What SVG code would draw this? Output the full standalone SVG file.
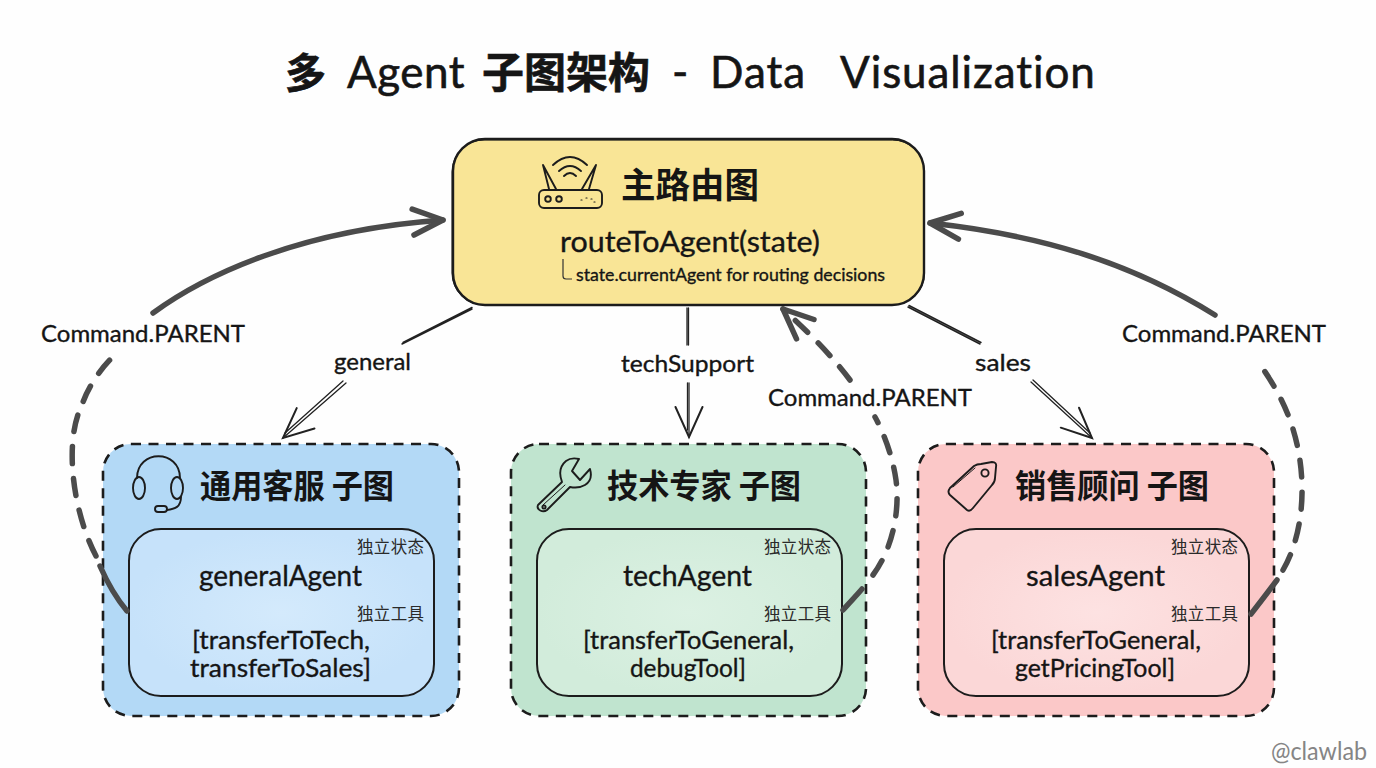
<svg xmlns="http://www.w3.org/2000/svg" width="1376" height="768" viewBox="0 0 1376 768">
<style>
text{font-family:"Lato","Noto Sans CJK SC",sans-serif;fill:#151515;stroke:#151515;stroke-width:.35}
.h{font-family:"Noto Sans CJK SC",sans-serif;font-weight:700;font-size:33px;stroke:none}
.s{font-family:"Noto Sans CJK SC",sans-serif;font-size:16.5px;fill:#2a2a2a;stroke:none}
.a{font-size:28px}
.t{font-size:25px}
.l{font-size:23px}
.outer{stroke:#1c1c1c;stroke-width:2.6;stroke-dasharray:10 7.5}
.inner{stroke:#1c1c1c;stroke-width:2}
.ic{fill:none;stroke:#1c1c1c;stroke-width:1.9;stroke-linecap:round;stroke-linejoin:round}
.thin{fill:none;stroke:#222;stroke-width:1.3;stroke-linecap:round}
.thick{fill:none;stroke:#4b4b4b;stroke-width:5.5;stroke-linecap:round}
.dash{stroke-dasharray:17 15;stroke-linecap:round}
</style>
<defs>
<marker id="open" markerUnits="userSpaceOnUse" markerWidth="60" markerHeight="60" refX="40" refY="30" orient="auto"><path d="M10,16.5 L40,30 L10,43.5" fill="none" stroke="#222" stroke-width="2" stroke-linecap="round"/></marker>
<marker id="bold" markerUnits="userSpaceOnUse" markerWidth="60" markerHeight="60" refX="46" refY="30" orient="auto"><path d="M16,17 L46,30 L16,43" fill="none" stroke="#4b4b4b" stroke-width="5.5" stroke-linecap="round" stroke-linejoin="round"/></marker>
<radialGradient id="gb"><stop offset="0" stop-color="#d4eafc"/><stop offset="1" stop-color="#c6e2fa"/></radialGradient>
<radialGradient id="gg"><stop offset="0" stop-color="#dcf1e3"/><stop offset="1" stop-color="#d2ecdb"/></radialGradient>
<radialGradient id="gr"><stop offset="0" stop-color="#fde2e2"/><stop offset="1" stop-color="#fbd7d7"/></radialGradient>
</defs>
<rect width="1376" height="768" fill="#fefefe"/>
<text id="title" y="88" font-size="44" stroke-width=".6" style="stroke-width:.6"><tspan x="285" font-family="Noto Sans CJK SC" font-size="41" font-weight="700" style="font-family:'Noto Sans CJK SC'">多</tspan><tspan x="347" letter-spacing="0.5">Agent</tspan><tspan x="482" font-size="42" font-weight="700" style="font-family:'Noto Sans CJK SC'">子图架构</tspan><tspan x="672">-</tspan><tspan x="710" letter-spacing="1">Data</tspan><tspan x="840" letter-spacing="0.9">Visualization</tspan></text>

<g id="router-node">
<rect x="453" y="139" width="471" height="166" rx="32" fill="#f9e596" stroke="#1c1c1c" stroke-width="2.4"/>
<rect x="452" y="140" width="472.500" height="165" rx="32" fill="none" stroke="#1c1c1c" stroke-width="1"/>
<g class="ic">
<rect x="539" y="190" width="63" height="18" rx="5"/>
<path d="M543,165 L549,189 M543,165 L556,189 M596,165 L582,189 M596,165 L589,189"/>
<path d="M553,165 Q570,149 587,165 M559,171 Q570,161 581,171 M564,176 Q570,170 576,176"/>
<circle cx="548" cy="199" r="2.8"/><circle cx="559" cy="199" r="2.8"/>
<path d="M581,200h1M586,198h1M591,199h1M594,202h1" stroke-width="1.2"/>
</g>
<text class="h" x="621" y="198" style="font-size:35px" textLength="138" lengthAdjust="spacingAndGlyphs">主路由图</text>
<text x="560" y="252" font-size="28" textLength="260" lengthAdjust="spacingAndGlyphs">routeToAgent(state)</text>
<path d="M563,259 V276 Q563,279 566,279 H572" fill="none" stroke="#333" stroke-width="1.2"/>
<text x="576" y="281" font-size="17.5" textLength="309" lengthAdjust="spacingAndGlyphs">state.currentAgent for routing decisions</text>
</g>

<g id="general-node">
<rect class="outer" x="103" y="444" width="356" height="272" rx="28" fill="#b3d9f6"/>
<rect class="inner" x="129" y="529" width="305" height="167" rx="32" fill="url(#gb)"/>
<g class="ic">
<path d="M137,478 C137,449 180,449 180,478"/>
<ellipse cx="139" cy="488" rx="6" ry="11"/><ellipse cx="177" cy="488" rx="6" ry="11"/>
<path d="M181,497 C181,507 175,509 167,510"/><rect x="155" y="506" width="12" height="6" rx="3"/>
</g>
<text class="h" x="200" y="498" textLength="194" lengthAdjust="spacingAndGlyphs">通用客服 子图</text>
<text class="s" x="357" y="553" textLength="67">独立状态</text>
<text class="a" x="199" y="586" textLength="163" lengthAdjust="spacingAndGlyphs">generalAgent</text>
<text class="s" x="357" y="620" textLength="67">独立工具</text>
<text class="t" x="192" y="649" textLength="178" lengthAdjust="spacingAndGlyphs">[transferToTech,</text>
<text class="t" x="190" y="677" textLength="181" lengthAdjust="spacingAndGlyphs">transferToSales]</text>
</g>

<g id="tech-node">
<rect class="outer" x="511" y="444" width="355" height="272" rx="28" fill="#c0e4cf"/>
<rect class="inner" x="537" y="529" width="305" height="167" rx="32" fill="url(#gg)"/>
<g class="ic">
<path d="M538,505 L562,482 C559,474 560,466 566,461 C570,458 575,458 579,459 L572,471 L580,480 L590,469 C592,476 590,482 585,485 C580,488 575,488 570,487 L547,510 C543,513 536,510 538,505 Z"/>
<path d="M543,505 L565,485" stroke-width="1"/>
<circle cx="544" cy="507" r="1.6"/>
</g>
<text class="h" x="607" y="498" textLength="194" lengthAdjust="spacingAndGlyphs">技术专家 子图</text>
<text class="s" x="764" y="553" textLength="67">独立状态</text>
<text class="a" x="623" y="586" textLength="129" lengthAdjust="spacingAndGlyphs">techAgent</text>
<text class="s" x="764" y="620" textLength="67">独立工具</text>
<text class="t" x="583" y="649" textLength="211" lengthAdjust="spacingAndGlyphs">[transferToGeneral,</text>
<text class="t" x="630" y="677" textLength="116" lengthAdjust="spacingAndGlyphs">debugTool]</text>
</g>

<g id="sales-node">
<rect class="outer" x="918" y="444" width="356" height="272" rx="28" fill="#fbc8c8"/>
<rect class="inner" x="944" y="529" width="305" height="167" rx="32" fill="url(#gr)"/>
<g class="ic">
<path d="M950,488 L974,466 Q977,464 981,464 L992,462 Q997,462 996,467 L995,478 Q995,482 992,485 L973,508 Q970,512 967,510 L950,495 Q947,492 950,488 Z"/>
<path d="M953,487 L975,468" stroke-width="1"/>
<circle cx="985" cy="473" r="3.6"/>
</g>
<text class="h" x="1015" y="498" textLength="194" lengthAdjust="spacingAndGlyphs">销售顾问 子图</text>
<text class="s" x="1171" y="553" textLength="67">独立状态</text>
<text class="a" x="1026" y="586" textLength="139" lengthAdjust="spacingAndGlyphs">salesAgent</text>
<text class="s" x="1171" y="620" textLength="67">独立工具</text>
<text class="t" x="991" y="649" textLength="210" lengthAdjust="spacingAndGlyphs">[transferToGeneral,</text>
<text class="t" x="1015" y="677" textLength="160" lengthAdjust="spacingAndGlyphs">getPricingTool]</text>
</g>

<g id="connectors">
<path class="thin" d="M472,309 L402,344 M472,307.500 L403,342.500" style="stroke-width:1.5"/>
<path class="thin" d="M346,383 L283,438" marker-end="url(#open)"/>
<path class="thin" d="M343,381 L285,433"/>
<path class="thin" d="M687,308 V345 M688.500,308 V345"/>
<path class="thin" d="M689,383 V437" marker-end="url(#open)"/>
<path class="thin" d="M687.500,383 V430"/>
<path class="thin" d="M908,307 L980,344 M909,305.500 L981,342.500" style="stroke-width:1.5"/>
<path class="thin" d="M1031,382 L1092,438" marker-end="url(#open)"/>
<path class="thin" d="M1033,380 L1090,433"/>

<path class="thick" d="M127,611 C116,598 107,582 100,566"/>
<path class="thick dash" d="M96,556 C72,510 64,440 82,405 C87,389 100,368 117,353"/>
<path class="thick" d="M153,313 C205,275 300,230 443,220" marker-end="url(#bold)"/>

<path class="thick" d="M843,610 C850,602 856,596 862,589"/>
<path class="thick dash" d="M873,575 C893,548 900,510 896,480 C893,458 884,433 875,417"/>
<path class="thick dash" d="M850,380 C835,360 815,338 783,309" marker-end="url(#bold)"/>

<path class="thick" d="M1251,614 C1262,600 1268,592 1277,580"/>
<path class="thick dash" d="M1283,570 C1306,530 1308,470 1290,420 C1282,398 1270,378 1258,362"/>
<path class="thick" d="M1215,315 C1130,262 1040,235 930,223" marker-end="url(#bold)"/>
</g>

<g id="labels">
<text class="l" x="41" y="342" textLength="204" lengthAdjust="spacingAndGlyphs">Command.PARENT</text>
<text class="l" x="334" y="370" textLength="77" lengthAdjust="spacingAndGlyphs">general</text>
<text class="l" x="621" y="372" textLength="133" lengthAdjust="spacingAndGlyphs">techSupport</text>
<text class="l" x="975" y="371" textLength="56" lengthAdjust="spacingAndGlyphs">sales</text>
<text class="l" x="768" y="406" textLength="204" lengthAdjust="spacingAndGlyphs">Command.PARENT</text>
<text class="l" x="1122" y="342" textLength="204" lengthAdjust="spacingAndGlyphs">Command.PARENT</text>
<text x="1271" y="760" font-size="25" style="fill:#858585;stroke:none" textLength="96" lengthAdjust="spacingAndGlyphs">@clawlab</text>
</g>
</svg>
